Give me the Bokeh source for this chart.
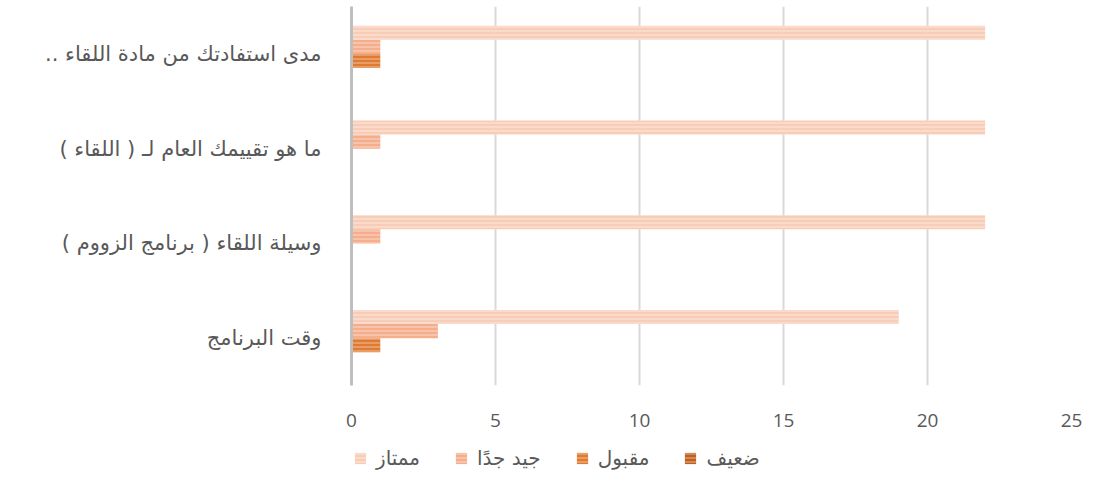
from bokeh.plotting import figure
from bokeh.models import ColumnDataSource, Range1d, FixedTicker, Legend, LegendItem
from bokeh.layouts import column
from bokeh.transform import dodge
from bokeh.embed import file_html
from bokeh.resources import INLINE

# Categories listed bottom -> top
categories = ["وقت البرنامج", "وسيلة اللقاء ( برنامج الزووم )", "ما هو تقييمك العام لـ ( اللقاء )", "مدى استفادتك من مادة اللقاء .."]
series_names = ["ضعيف", "مقبول", "جيد جدًا", "ممتاز"]
weak = [0, 0, 0, 0]
acceptable = [1, 0, 0, 1]
very_good = [3, 1, 1, 1]
excellent = [19, 22, 22, 22]
x_ticks = [0, 5, 10, 15, 20, 25]

colors = ["#C0601E", "#E07A30", "#F4AE8C", "#F8CDB8"]
values = [weak, acceptable, very_good, excellent]
RLM = "\u200f"

ypos = [i + 0.5 for i in range(len(categories))]
bar_h = 0.148
offsets = [-1.5 * bar_h, -0.5 * bar_h, 0.5 * bar_h, 1.5 * bar_h]

p = figure(width=1090, height=437, output_backend="svg", toolbar_location=None,
           x_range=Range1d(0, 25), y_range=Range1d(0, len(categories)),
           min_border_left=351, min_border_right=19, min_border_top=6, min_border_bottom=52)

# Legend panel (bars drawn out of its visible range; only legend shows)
lg = figure(width=1090, height=33, output_backend="svg", toolbar_location=None,
            x_range=Range1d(0, 25), y_range=Range1d(100, 101),
            x_axis_location=None, y_axis_location=None,
            min_border_left=351, min_border_right=19, min_border_top=0, min_border_bottom=0)
lg.grid.grid_line_color = None
lg.outline_line_color = None

style = dict(line_color=None, hatch_pattern="horizontal_line", hatch_color="white",
             hatch_alpha=0.35, hatch_scale=4, hatch_weight=1.5)
renderers = {}
for name, vals, col, off in zip(series_names, values, colors, offsets):
    src = ColumnDataSource(dict(y=ypos, v=vals))
    p.hbar(y=dodge("y", off, range=p.y_range), right="v", left=0, height=bar_h, source=src,
           fill_color=col, **style)
    renderers[name] = lg.hbar(y="y", right="v", left=0, height=bar_h, source=src,
                              fill_color=col, **style)

p.xaxis.ticker = FixedTicker(ticks=x_ticks)
p.xaxis.axis_line_color = None
p.xaxis.major_tick_line_color = None
p.xaxis.minor_tick_line_color = None
p.xaxis.major_label_text_font = "Open Sans"
p.xaxis.major_label_text_font_size = "19px"
p.xaxis.major_label_text_color = "#595959"
p.xaxis.major_label_standoff = 22

p.yaxis.ticker = FixedTicker(ticks=ypos)
p.yaxis.major_label_overrides = {y: RLM + c + RLM for y, c in zip(ypos, categories)}
p.yaxis.axis_line_color = "#BFBFBF"
p.yaxis.axis_line_width = 3
p.yaxis.major_tick_line_color = None
p.yaxis.minor_tick_line_color = None
p.yaxis.major_label_text_font = "DejaVu Sans"
p.yaxis.major_label_text_font_size = "21px"
p.yaxis.major_label_text_color = "#595959"
p.yaxis.major_label_standoff = 24

p.xgrid.grid_line_color = "#D9D9D9"
p.xgrid.grid_line_width = 2
p.ygrid.grid_line_color = None
p.outline_line_color = None

order = ["ممتاز", "جيد جدًا", "مقبول", "ضعيف"]
legend = Legend(items=[LegendItem(label=n, renderers=[renderers[n]]) for n in order],
                orientation="horizontal", location=(2, 0),
                label_text_font="DejaVu Sans", label_text_font_size="20px",
                label_text_color="#595959", glyph_width=14, glyph_height=14,
                spacing=34, label_standoff=9, border_line_color=None,
                background_fill_alpha=0, margin=0, padding=2)
lg.add_layout(legend, "center")

open("out.html", "w").write(file_html(column(p, lg, spacing=0), INLINE))
